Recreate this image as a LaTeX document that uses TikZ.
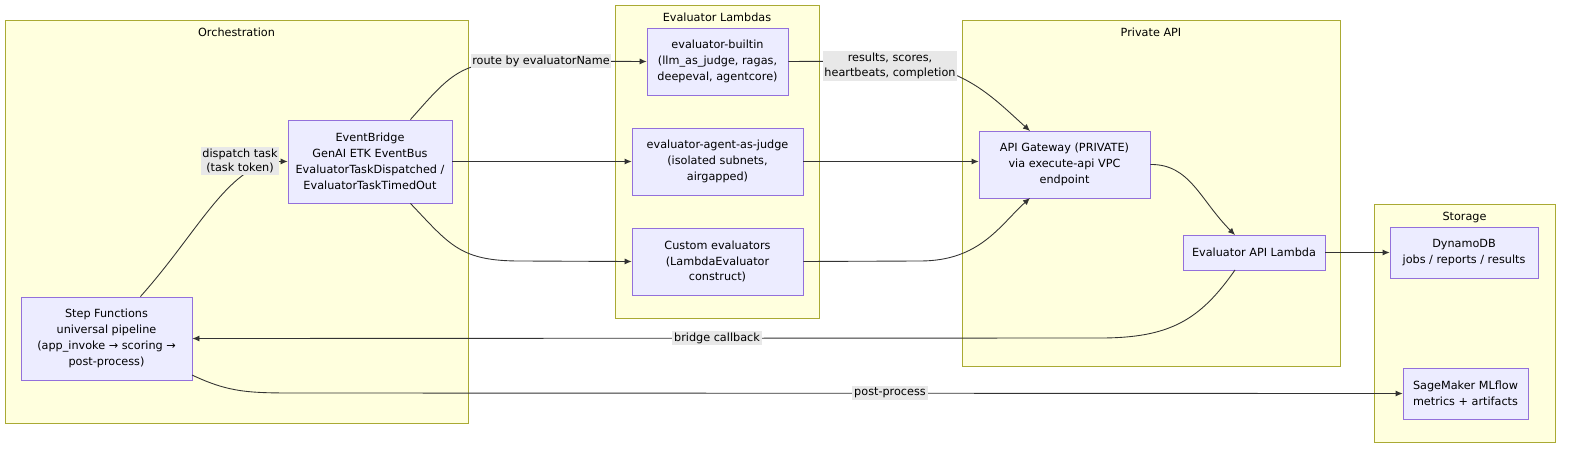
\documentclass[tikz,border=0pt]{standalone}
\usepackage{fontspec}
\setmainfont{DejaVu Sans}
\usetikzlibrary{positioning,arrows.meta}
\definecolor{grpfill}{HTML}{FFFFDE}
\definecolor{grpline}{HTML}{AAAA33}
\definecolor{boxfill}{HTML}{ECECFF}
\definecolor{boxline}{HTML}{9370DB}
\definecolor{lblfill}{HTML}{E8E8E8}
\tikzset{
  group/.style={draw=grpline, fill=grpfill, line width=0.5pt},
  grouptitle/.style={font=\fontsize{6.4pt}{7.6pt}\selectfont, anchor=north},
  box/.style={draw=boxline, fill=boxfill, line width=0.5pt, align=center,
    font=\fontsize{6.4pt}{9pt}\selectfont, inner sep=0pt},
  lbl/.style={fill=lblfill, align=center, inner sep=1pt,
    font=\fontsize{6.4pt}{8.4pt}\selectfont},
  flow/.style={draw=black!80, line width=0.5pt, -{Latex[length=4pt,width=3.5pt]}},
}
\begin{document}
\begin{tikzpicture}[x=0.02cm,y=-0.02cm]
\useasboundingbox (0,0) rectangle (1584,456);
% groups
\draw [group] (5,20) rectangle (468,423);
\node [grouptitle] at (236.5,22) {Orchestration};
\draw [group] (615,5) rectangle (819,318);
\node [grouptitle] at (717,7) {Evaluator Lambdas};
\draw [group] (962,20) rectangle (1340,366);
\node [grouptitle] at (1151,22) {Private API};
\draw [group] (1374,204) rectangle (1555,442);
\node [grouptitle] at (1464.5,206) {Storage};
% nodes
\node [box, minimum width=3.28cm, minimum height=1.66cm] (bus) at (370,161.5)
  {EventBridge\\GenAI ETK EventBus\\EvaluatorTaskDispatched /\\EvaluatorTaskTimedOut};
\node [box, minimum width=3.42cm, minimum height=1.66cm] (sfn) at (106.5,338.5)
  {Step Functions\\universal pipeline\\(app\_invoke → scoring →\\post-process)};
\node [box, minimum width=2.82cm, minimum height=1.34cm] (builtin) at (717.5,61.5)
  {evaluator-builtin\\(llm\_as\_judge, ragas,\\deepeval, agentcore)};
\node [box, minimum width=3.42cm, minimum height=1.34cm] (agent) at (717.5,161.5)
  {evaluator-agent-as-judge\\(isolated subnets,\\airgapped)};
\node [box, minimum width=3.42cm, minimum height=1.34cm] (custom) at (717.5,261.5)
  {Custom evaluators\\(LambdaEvaluator\\construct)};
\node [box, minimum width=3.42cm, minimum height=1.34cm] (apigw) at (1064.5,164.5)
  {API Gateway (PRIVATE)\\via execute-api VPC\\endpoint};
\node [box, minimum width=2.84cm, minimum height=0.7cm] (cb) at (1254,252.5)
  {Evaluator API Lambda};
\node [box, minimum width=2.96cm, minimum height=1.02cm] (ddb) at (1464,252.5)
  {DynamoDB\\jobs / reports / results};
\node [box, minimum width=2.5cm, minimum height=1.02cm] (mlflow) at (1465.5,393.5)
  {SageMaker MLflow\\metrics + artifacts};
% connectors
\draw [flow] (sfn.north east) ++(-52,0) .. controls (200,230) and (230,161) .. (bus.west);
\draw [flow] (bus.north east) ++(-42,0) .. controls (450,75) and (460,61) .. (520,61) -- (builtin.west);
\draw [flow] (bus.east) -- (agent.west);
\draw [flow] (bus.south east) ++(-42,0) .. controls (450,245) and (460,261) .. (520,261) -- (custom.west);
\draw [flow] (builtin.east) -- (880,61) .. controls (960,61) and (990,95) .. (1030,131);
\draw [flow] (agent.east) -- (apigw.west |- agent.east);
\draw [flow] (custom.east) -- (920,261) .. controls (980,261) and (1000,225) .. (1030,198);
\draw [flow] (apigw.east) .. controls (1190,164) and (1200,200) .. (1235,235);
\draw [flow] (cb.east) -- (ddb.west);
\draw [flow] (1235,270) .. controls (1200,320) and (1170,338) .. (1100,338) -- (sfn.east);
\draw [flow] (192,375) .. controls (230,393) and (250,393) .. (300,393) -- (mlflow.west);
% edge labels
\node [lbl] (lDispatch) at (240,161) {dispatch task\\(task token)};
\node [lbl] (lRoute) at (541,61) {route by evaluatorName};
\node [lbl] (lResults) at (890,66) {results, scores,\\heartbeats, completion};
\node [lbl] (lBridge) at (717,338) {bridge callback};
\node [lbl] (lPost) at (890,393) {post-process};
\end{tikzpicture}
\end{document}
